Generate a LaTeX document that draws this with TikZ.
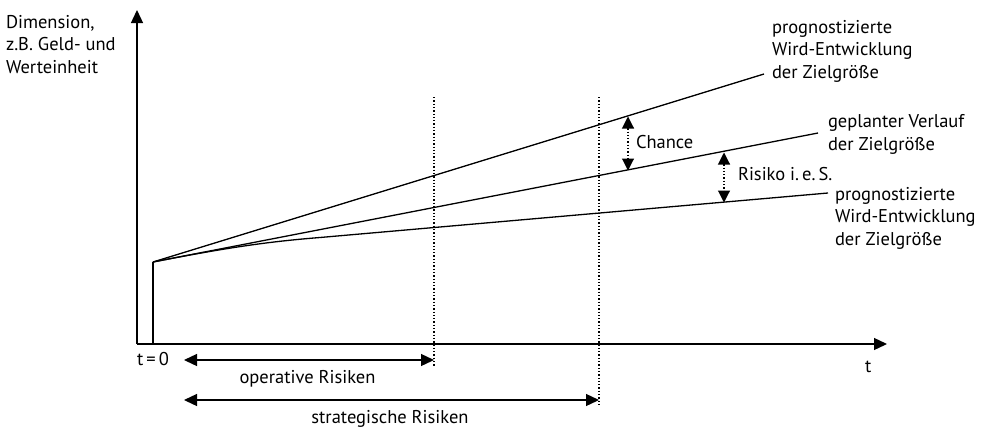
\documentclass[tikz,border=0pt]{standalone}
\usepackage{fontspec}
\setmainfont{PT Sans}
\usetikzlibrary{arrows.meta}
\begin{document}
\begin{tikzpicture}[x=1pt,y=-1pt,
  font=\fontsize{18.5}{22.5}\selectfont,
  every node/.style={inner sep=0pt, outer sep=0pt},
  ln/.style={line width=1.3pt},
  axis/.style={line width=1.3pt, -{Triangle[length=13pt,width=12pt]}},
  dotv/.style={line width=1.1pt, dash pattern=on 1.3pt off 2pt},
  span/.style={line width=1.3pt, {Triangle[length=13pt,width=12pt]}-{Triangle[length=13pt,width=12pt]}},
  dspan/.style={line width=1.1pt, dash pattern=on 1.3pt off 2pt, {Triangle[length=12pt,width=12pt]}-{Triangle[length=12pt,width=12pt]}},
  lbl/.style={anchor=base west, align=left}
]
\useasboundingbox (0,0) rectangle (988,429);
% coordinates
\coordinate (O) at (137,344);
\coordinate (ytip) at (137,10);
\coordinate (xtip) at (887,344);
\coordinate (T0) at (153,344);
\coordinate (S) at (153,262);
\coordinate (topEnd) at (764,74);
\coordinate (midEnd) at (818,133);
\coordinate (botEnd) at (828,193);
\coordinate (knee) at (320,237.5);
\coordinate (d1t) at (434,97);
\coordinate (d1b) at (434,367);
\coordinate (d2t) at (599,97);
\coordinate (d2b) at (599,407);
\coordinate (opL) at (184,360);
\coordinate (opR) at (434,360);
\coordinate (stL) at (184,400);
\coordinate (stR) at (599,400);
\coordinate (chT) at (628,116.5);
\coordinate (chB) at (628,170.5);
\coordinate (riT) at (724,152.5);
\coordinate (riB) at (724,202.5);
% axes
\draw[axis] (O) -- (ytip);
\draw[axis] (O) -- (xtip);
% curves
\draw[ln] (T0) -- (S);
\draw[ln] (S) -- (topEnd);
\draw[ln] (S) -- (midEnd);
\draw[ln] (S) .. controls (230,247) and (270,241.5) .. (knee) -- (botEnd);
% dotted verticals
\draw[dotv] (d1t) -- (d1b);
\draw[dotv] (d2t) -- (d2b);
% spans
\draw[span] (opL) -- (opR);
\draw[span] (stL) -- (stR);
\draw[dspan] (chT) -- (chB);
\draw[dspan] (riT) -- (riB);
% labels (base anchor = last line's baseline)
\node[lbl] (dim) at (6,73) {Dimension,\\z.B. Geld- und\\Werteinheit};
\node[lbl] (lt) at (772,78) {prognostizierte\\Wird-Entwicklung\\der Zielgröße};
\node[lbl] (lm) at (828,150) {geplanter Verlauf\\der Zielgröße};
\node[lbl] (lb) at (835,245) {prognostizierte\\Wird-Entwicklung\\der Zielgröße};
\node[lbl] (ch) at (636,148) {Chance};
\node[lbl] (ri) at (738,180) {Risiko i.\,e.\,S.};
\node[lbl] (t0) at (137,365) {t\,=\,0};
\node[lbl] (tl) at (865,372) {t};
\node[anchor=base] (op) at (307.5,383) {operative Risiken};
\node[anchor=base] (st) at (390,423) {strategische Risiken};
\end{tikzpicture}
\end{document}
